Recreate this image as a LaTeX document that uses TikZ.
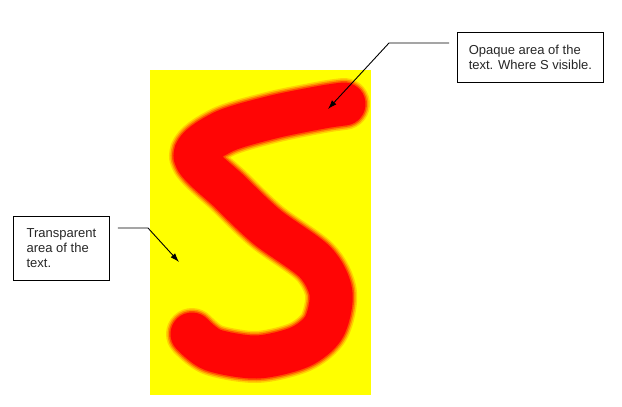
\documentclass[tikz,border=0pt]{standalone}
\usepackage{fontspec}
\setmainfont{Liberation Sans}
\usetikzlibrary{arrows.meta,calc}
\definecolor{sy}{RGB}{255,255,0}
\definecolor{se1}{RGB}{255,210,0}
\definecolor{se2}{RGB}{255,150,0}
\definecolor{se3}{RGB}{255,80,0}
\definecolor{sr}{RGB}{255,5,5}
\begin{document}
\begin{tikzpicture}[x=1pt,y=-1pt,
  callout/.style={draw=black, line width=0.8pt, anchor=north west, align=left,
    inner xsep=0pt, inner ysep=0pt, font=\fontsize{13}{15}\selectfont, text=black!85},
  pointer/.style={line width=0.9pt, -{Latex[length=9pt,width=6pt]}},
  sstroke/.style={line cap=round, line join=round},
]
\useasboundingbox (0,0) rectangle (622,407);
\fill[sy] (150,70) rectangle (371,395);
\def\Spath{plot[smooth,tension=0.5] coordinates {(344,104) (323,107) (273,117) (223,132) (195,156) (230,192) (267,227) (315,262) (331,293) (324,327) (300,347) (257,357) (213,350) (192,334)}}
\draw[sstroke, se1, line width=52pt] \Spath;
\draw[sstroke, se2, line width=49pt] \Spath;
\draw[sstroke, se3, line width=46pt] \Spath;
\draw[sstroke, sr, line width=43pt] \Spath;

\node[callout, minimum width=146pt, minimum height=50pt] (opaque) at (457,32)
  {Opaque area of the\\text. Where S visible.};
\node[callout, minimum width=96pt, minimum height=64pt] (transp) at (13,216)
  {Transparent\\area of the\\text.};

\coordinate (s1) at ($(opaque.north west)+(-8,11)$);
\coordinate (k1) at (389,43);
\coordinate (t1) at (328,109);
\draw[pointer] (s1) -- (k1) -- (t1);

\coordinate (s2) at ($(transp.north east)+(8,12)$);
\coordinate (k2) at (148,228);
\coordinate (t2) at (179,262);
\draw[pointer] (s2) -- (k2) -- (t2);
\end{tikzpicture}
\end{document}
